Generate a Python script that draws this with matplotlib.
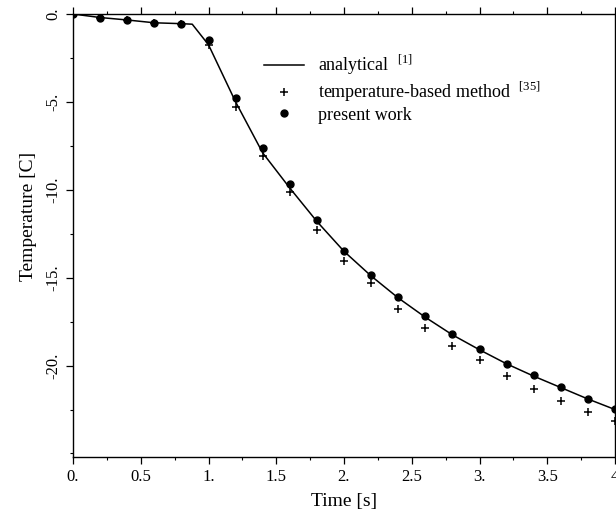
import matplotlib
matplotlib.use("Agg")
import matplotlib.pyplot as plt
from matplotlib.ticker import MultipleLocator, FixedLocator, FixedFormatter

plt.rcParams['font.family'] = ['Liberation Serif', 'DejaVu Serif']
plt.rcParams['mathtext.fontset'] = 'custom'
plt.rcParams['mathtext.rm'] = 'Liberation Serif'

# Analytical solution (line)
analytical_t = [0.0, 0.2, 0.4, 0.6, 0.8, 0.88, 1.0, 1.2, 1.4, 1.6, 1.8, 2.0, 2.2, 2.4,
                2.6, 2.8, 3.0, 3.2, 3.4, 3.6, 3.8, 4.0]
analytical_T = [0.0, -0.2, -0.34, -0.5, -0.55, -0.58, -1.75, -5.0, -7.9, -9.9, -11.8,
                -13.5, -14.9, -16.15, -17.25, -18.25, -19.1, -19.9, -20.6, -21.25,
                -21.9, -22.5]

# Temperature-based method [35] (plus markers)
temp_t = [0.0, 0.2, 0.4, 0.6, 0.8, 1.0, 1.2, 1.4, 1.6, 1.8, 2.0, 2.2, 2.4, 2.6, 2.8,
          3.0, 3.2, 3.4, 3.6, 3.8, 4.0]
temp_T = [0.0, -0.2, -0.36, -0.5, -0.57, -1.75, -5.27, -8.1, -10.1, -12.3, -14.04,
          -15.3, -16.76, -17.84, -18.86, -19.7, -20.6, -21.35, -22.03, -22.65, -23.16]

# Present work (filled circles)
present_t = temp_t
present_T = [0.0, -0.2, -0.34, -0.5, -0.57, -1.47, -4.8, -7.64, -9.68, -11.72, -13.48,
             -14.84, -16.08, -17.16, -18.2, -19.08, -19.93, -20.56, -21.23, -21.91, -22.48]

xticks = [0, 0.5, 1, 1.5, 2, 2.5, 3, 3.5, 4]
xticklabels = ["0.", "0.5", "1.", "1.5", "2.", "2.5", "3.", "3.5", "4"]
yticks = [0, -5, -10, -15, -20]
yticklabels = ["0.", "-5.", "-10.", "-15.", "-20."]

fig = plt.figure(figsize=(6.16, 5.2), dpi=100)
ax = fig.add_axes([73/616, 1-457/520, (615-73)/616, (457-14)/520])

ax.plot(analytical_t, analytical_T, color='black', lw=1.1,
        label=r"analytical  $^{[1]}$")
ax.plot(temp_t, temp_T, linestyle='none', marker='+', ms=6, mew=1.1, color='black',
        label=r"temperature-based method  $^{[35]}$")
ax.plot(present_t, present_T, linestyle='none', marker='o', ms=5, color='black',
        label="present work")

ax.set_xlim(0, 4)
ax.set_ylim(-25.2, 0)
ax.xaxis.set_major_locator(FixedLocator(xticks))
ax.xaxis.set_major_formatter(FixedFormatter(xticklabels))
ax.xaxis.set_minor_locator(MultipleLocator(0.25))
ax.yaxis.set_major_locator(FixedLocator(yticks))
ax.yaxis.set_major_formatter(FixedFormatter(yticklabels))
ax.yaxis.set_minor_locator(MultipleLocator(2.5))

ax.tick_params(which='both', direction='out', top=True, right=True, labelsize=12)
ax.tick_params(which='major', length=5, width=0.9)
ax.tick_params(which='minor', length=2.5, width=0.8)
for lab in ax.get_yticklabels():
    lab.set_rotation(90)
    lab.set_va('center')
for s in ax.spines.values():
    s.set_linewidth(1.0)

ax.set_xlabel("Time [s]", fontsize=14, labelpad=6)
ax.set_ylabel("Temperature [C]", fontsize=14)
ax.yaxis.set_label_coords(-0.067, 0.544)

ax.legend(loc='upper left', bbox_to_anchor=((264-73)/542, 1-(53-14)/443),
          frameon=False, fontsize=13, handlelength=2.2, handletextpad=0.8,
          labelspacing=0.15, borderpad=0, borderaxespad=0)

fig.savefig("out.png", dpi=100)
